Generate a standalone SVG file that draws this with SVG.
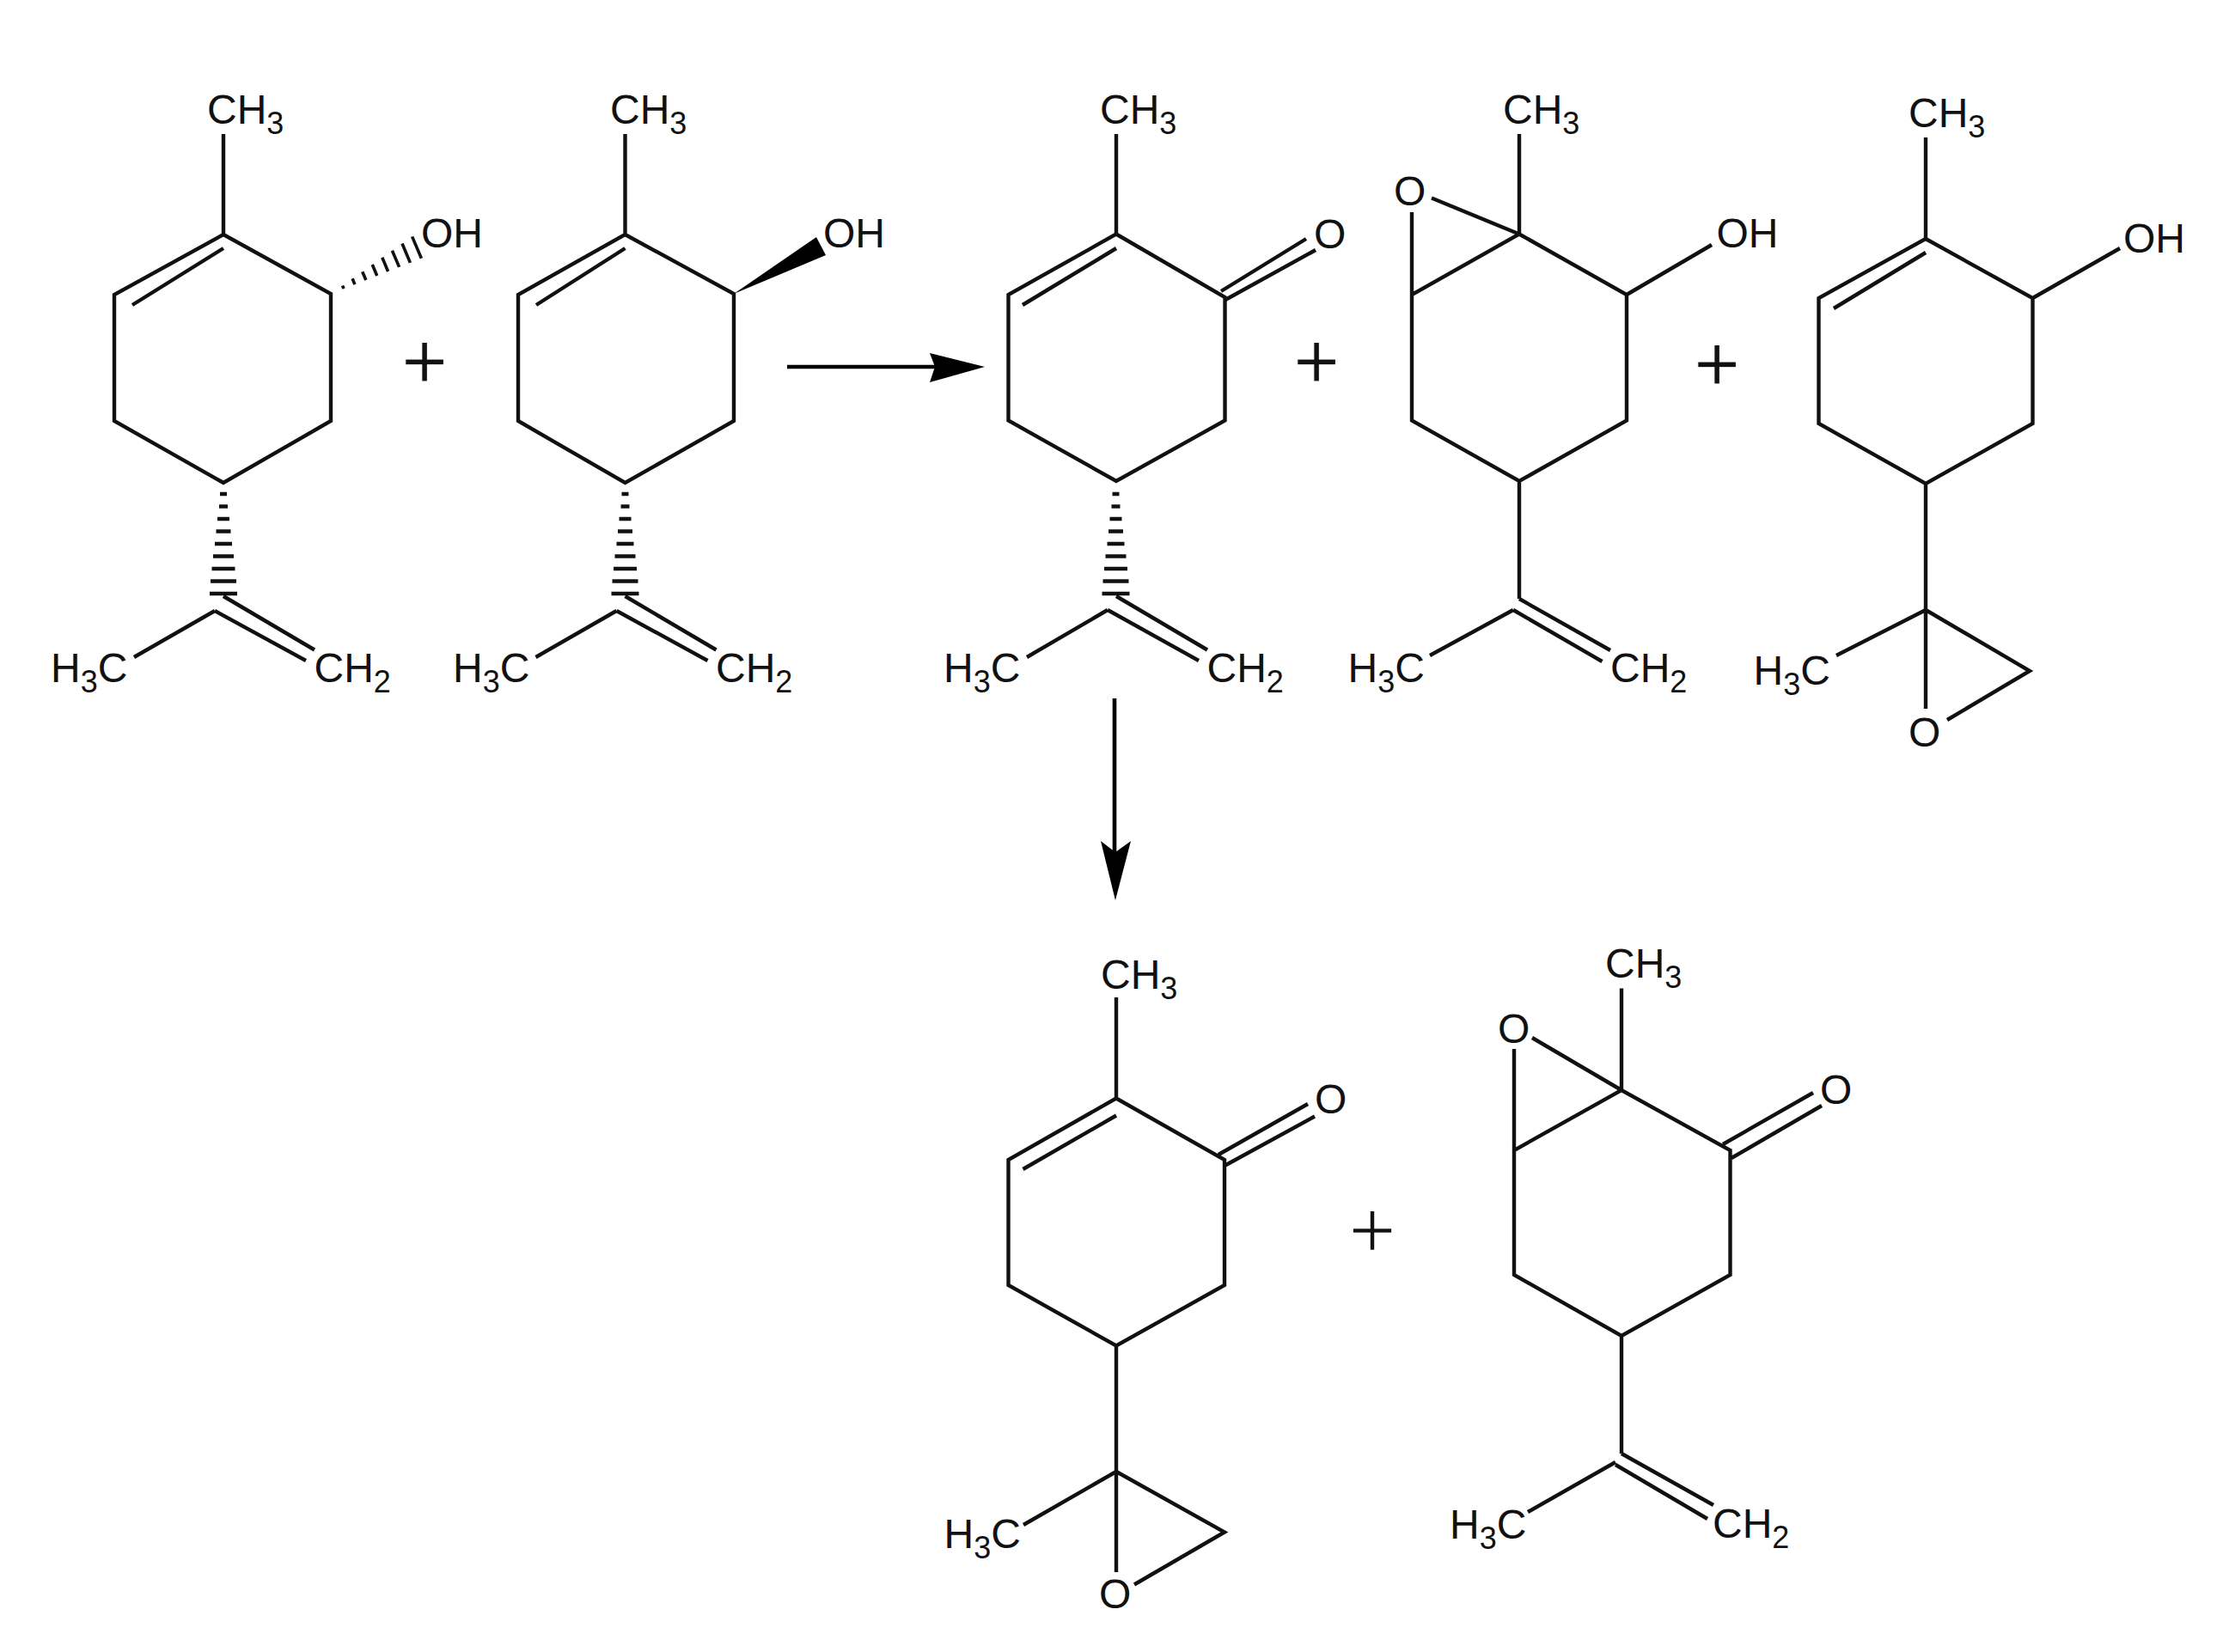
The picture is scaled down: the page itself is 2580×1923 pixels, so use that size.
<svg xmlns="http://www.w3.org/2000/svg" xmlns:xlink="http://www.w3.org/1999/xlink" width="2580" height="1923" viewBox="0 0 2580 1923">
<style>
.b{fill:none;stroke:#111;stroke-width:4.4;stroke-linejoin:miter;stroke-linecap:butt}
.h{fill:none;stroke:#111;stroke-width:3.6}
.w{fill:#000;stroke:none}
.t{font-family:"Liberation Sans",Arial,sans-serif;font-size:48px;fill:#111}
.s{font-size:36px}
.p{font-family:"Liberation Sans",Arial,sans-serif;font-size:92px;fill:#111;text-anchor:middle;stroke:#fff;stroke-width:1}
.a{fill:none;stroke:#000;stroke-width:4.6}
</style>
<defs>
<g id="hashdown">
<path class="h" d="M-4,0H4M-5,14.500H5M-7,29H7M-8.500,43.500H8.500M-10,58H10M-12,72.500H12M-13.500,87H13.500M-15,101.500H15M-16,116H16" style="stroke-width:4.600"/>
</g>
</defs>
<rect width="2580" height="1923" fill="#fff"/>
<g id="mol1">
<path class="b" d="M260,156V273L133,343V490L260,562L385,490V342L260,273M260,289L154,355"/>
<use href="#hashdown" xlink:href="#hashdown" x="260" y="575"/>
<path class="h" d="M398.500,332.500L400.100,336.100M410.100,324.300L412.900,331.100M421.700,316.200L425.900,326M433.250,308L438.750,321M444.800,299.800L451.600,316M456.400,291.700L464.600,310.900M468,283.500L477.400,305.900M479.600,275.400L490.400,300.800"/>
<path class="b" d="M260,694L366,756.500M250,711L356,769M156,765L250,711"/>
<text class="t" x="241" y="144">CH<tspan class="s" dy="12">3</tspan></text>
<text class="t" x="490" y="288">OH</text>
<text class="t" x="59" y="794">H<tspan class="s" dy="12">3</tspan><tspan dy="-12">C</tspan></text>
<text class="t" x="365.500" y="794">CH<tspan class="s" dy="12">2</tspan></text>
</g>
<g id="plus1"><text class="p" x="494" y="452">+</text></g>
<g id="mol2">
<path class="b" d="M727.500,156V273L603,343V490L727.500,562L854,490V342L727.500,273M727.500,289L624,355"/>
<use href="#hashdown" xlink:href="#hashdown" x="727.500" y="575"/>
<polygon class="w" points="854,342 950,276 961,297"/>
<path class="b" d="M727.500,694L833.500,756.500M717.500,711L823.500,769M623.500,765L717.500,711"/>
<text class="t" x="710" y="144">CH<tspan class="s" dy="12">3</tspan></text>
<text class="t" x="958" y="288">OH</text>
<text class="t" x="527" y="794">H<tspan class="s" dy="12">3</tspan><tspan dy="-12">C</tspan></text>
<text class="t" x="833" y="794">CH<tspan class="s" dy="12">2</tspan></text>
</g>
<g id="mol3">
<path class="b" d="M1299,156V272.500L1173.500,343V489.500L1299,560L1425.500,489.500V346L1299,272.500M1299,289L1190,355"/>
<use href="#hashdown" xlink:href="#hashdown" x="1298.500" y="575"/>
<path class="b" d="M1421,339L1520,278M1426,349L1531,291"/>
<path class="b" d="M1299,694L1405,756.500M1289,710L1395,769M1195,765L1289,710"/>
<text class="t" x="1280" y="144">CH<tspan class="s" dy="12">3</tspan></text>
<text class="t" x="1529" y="289">O</text>
<text class="t" x="1098" y="794">H<tspan class="s" dy="12">3</tspan><tspan dy="-12">C</tspan></text>
<text class="t" x="1404.500" y="794">CH<tspan class="s" dy="12">2</tspan></text>
</g>
<g id="plus2"><text class="p" x="1532" y="452">+</text></g>
<g id="mol4">
<path class="b" d="M1768,156V272.500L1643,343V489.500L1768,560L1893,489.500V343L1768,272.500M1666,230.500L1768,272.500M1643,247V343M1893,343L1992,285M1768,560V697"/>
<path class="b" d="M1768,697L1874,757M1761,710L1864.500,770M1664,763L1761,710"/>
<text class="t" x="1749" y="144">CH<tspan class="s" dy="12">3</tspan></text>
<text class="t" x="1622" y="238.500">O</text>
<text class="t" x="1997.500" y="288">OH</text>
<text class="t" x="1568.500" y="794">H<tspan class="s" dy="12">3</tspan><tspan dy="-12">C</tspan></text>
<text class="t" x="1874" y="794">CH<tspan class="s" dy="12">2</tspan></text>
</g>
<g id="plus3"><text class="p" x="1998" y="455">+</text></g>
<g id="mol5">
<path class="b" d="M2241,160V278L2116.500,347V493L2241,563L2365.500,493V347L2241,278M2241,294L2134,359M2365.500,347L2467,289M2241,563V825M2241,710L2137,763M2241,710L2362,781L2266,838"/>
<text class="t" x="2221" y="148">CH<tspan class="s" dy="12">3</tspan></text>
<text class="t" x="2471" y="294">OH</text>
<text class="t" x="2040.500" y="796.500">H<tspan class="s" dy="12">3</tspan><tspan dy="-12">C</tspan></text>
<text class="t" x="2221" y="869">O</text>
</g>
<g id="mol6">
<path class="b" d="M1299,1161V1278.500L1173.500,1350V1496L1299,1566.500L1425,1496V1350L1299,1278.500M1299,1298.500L1190.500,1361M1418,1344L1522,1285M1425,1357L1530,1299.500M1299,1566.500V1830M1299,1713L1191,1775M1299,1713L1425,1783.500L1320,1844.500"/>
<text class="t" x="1281" y="1150.500">CH<tspan class="s" dy="12">3</tspan></text>
<text class="t" x="1530" y="1295.500">O</text>
<text class="t" x="1098.500" y="1801.500">H<tspan class="s" dy="12">3</tspan><tspan dy="-12">C</tspan></text>
<text class="t" x="1279" y="1872">O</text>
</g>
<g id="plus4"><text class="p" x="1597" y="1465" style="stroke-width:2.4;font-size:96px">+</text></g>
<g id="mol7">
<path class="b" d="M1887,1150.500V1269L1762,1339V1484L1887,1555L2013.500,1484V1339L1887,1269M1783,1208L1887,1269M1762,1221V1339M2005,1332L2110,1272M2015,1348L2120,1287M1887,1555V1692"/>
<path class="b" d="M1887,1692L1994,1752M1880,1705L1987,1768M1778,1760L1880,1702"/>
<text class="t" x="1868" y="1137.500">CH<tspan class="s" dy="12">3</tspan></text>
<text class="t" x="1743" y="1213.500">O</text>
<text class="t" x="2118" y="1285">O</text>
<text class="t" x="1687" y="1791">H<tspan class="s" dy="12">3</tspan><tspan dy="-12">C</tspan></text>
<text class="t" x="1993" y="1790">CH<tspan class="s" dy="12">2</tspan></text>
</g>
<g id="connectors">
<path class="a" d="M916,427H1095"/>
<polygon class="w" points="1146,427 1082,411 1088,427 1082,445"/>
<path class="a" d="M1297,813V995"/>
<polygon class="w" points="1298,1048 1281,979 1298,992 1316,979"/>
</g>
</svg>
